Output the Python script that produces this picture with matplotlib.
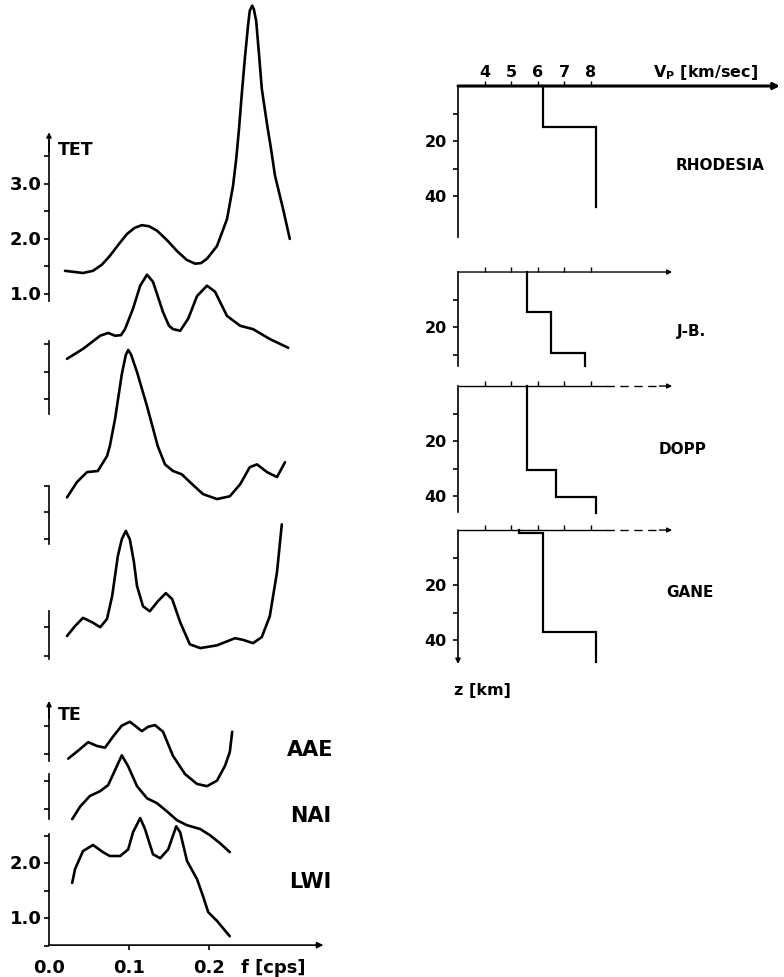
import matplotlib.pyplot as plt
import numpy as np

# ---- spectra (frequency in cps, amplitude in TET / TE units) ----
f1 = [0.020, 0.0425, 0.055, 0.066, 0.076, 0.087, 0.0975, 0.107, 0.116, 0.125, 0.135, 0.148,
      0.160, 0.172, 0.1825, 0.190, 0.1975, 0.210, 0.2225,
      0.230, 0.234, 0.2375, 0.241, 0.245, 0.249, 0.251, 0.254, 0.256, 0.259, 0.2625, 0.266,
      0.2725, 0.2775, 0.2825, 0.2925, 0.301]
a1 = [1.42, 1.38, 1.42, 1.53, 1.69, 1.90, 2.09, 2.20, 2.25, 2.23, 2.15, 1.97,
      1.78, 1.62, 1.55, 1.56, 1.64, 1.87, 2.36,
      2.96, 3.45, 4.00, 4.64, 5.31, 5.91, 6.15, 6.24, 6.18, 5.96, 5.36, 4.73,
      4.09, 3.64, 3.15, 2.55, 2.00]

f2 = [0.0225, 0.0425, 0.064, 0.074, 0.0825, 0.090, 0.095, 0.105, 0.114, 0.1225, 0.130, 0.1425,
      0.150, 0.155, 0.164, 0.174, 0.185, 0.1975, 0.2075, 0.2225, 0.239, 0.255, 0.276, 0.299]
a2 = [0.82, 1.00, 1.24, 1.29, 1.24, 1.25, 1.36, 1.73, 2.15, 2.35, 2.22, 1.67,
      1.42, 1.36, 1.33, 1.55, 1.96, 2.15, 2.04, 1.60, 1.42, 1.36, 1.18, 1.02]

f3 = [0.0225, 0.035, 0.0475, 0.061, 0.0725, 0.076, 0.0825, 0.091, 0.096, 0.099, 0.1025,
      0.110, 0.1225, 0.136, 0.145, 0.155, 0.166, 0.176, 0.1925, 0.210, 0.226, 0.239,
      0.251, 0.260, 0.2725, 0.285, 0.295]
a3 = [0.85, 1.13, 1.31, 1.33, 1.60, 1.78, 2.27, 3.09, 3.44, 3.53, 3.45,
      3.13, 2.51, 1.78, 1.45, 1.33, 1.27, 1.13, 0.91, 0.82, 0.87, 1.09,
      1.40, 1.45, 1.31, 1.22, 1.49]

f4 = [0.0225, 0.0325, 0.0425, 0.054, 0.064, 0.0725, 0.079, 0.086, 0.091, 0.096, 0.101,
      0.106, 0.110, 0.1175, 0.126, 0.136, 0.146, 0.154, 0.164, 0.176, 0.189, 0.210,
      0.2325, 0.2425, 0.255, 0.266, 0.276, 0.285, 0.291]
a4 = [0.42, 0.60, 0.75, 0.67, 0.58, 0.73, 1.15, 1.87, 2.18, 2.33, 2.18,
      1.78, 1.33, 0.96, 0.87, 1.05, 1.20, 1.09, 0.67, 0.27, 0.20, 0.25,
      0.38, 0.35, 0.29, 0.40, 0.78, 1.58, 2.45]

f_aae = [0.024, 0.036, 0.049, 0.060, 0.070, 0.080, 0.091, 0.101, 0.1075, 0.116, 0.124,
         0.1325, 0.1425, 0.155, 0.170, 0.185, 0.1975, 0.210, 0.220, 0.226, 0.229]
a_aae = [0.55, 0.69, 0.85, 0.78, 0.75, 0.95, 1.15, 1.22, 1.15, 1.05, 1.13,
         1.16, 1.04, 0.60, 0.27, 0.09, 0.05, 0.15, 0.42, 0.67, 1.04]

f_nai = [0.029, 0.039, 0.051, 0.064, 0.074, 0.0825, 0.091, 0.099, 0.110, 0.1225, 0.135,
         0.1475, 0.160, 0.1725, 0.189, 0.201, 0.214, 0.226]
a_nai = [0.62, 0.85, 1.04, 1.13, 1.24, 1.51, 1.78, 1.58, 1.22, 1.00, 0.91,
         0.76, 0.60, 0.51, 0.44, 0.33, 0.18, 0.02]

f_lwi = [0.029, 0.0325, 0.0425, 0.055, 0.0675, 0.076, 0.089, 0.099, 0.105, 0.114, 0.120,
         0.130, 0.139, 0.149, 0.159, 0.164, 0.1725, 0.185, 0.1925, 0.199, 0.210, 0.226]
a_lwi = [1.64, 1.89, 2.22, 2.33, 2.20, 2.13, 2.13, 2.25, 2.56, 2.82, 2.62,
         2.16, 2.09, 2.25, 2.67, 2.56, 2.04, 1.71, 1.40, 1.11, 0.95, 0.67]

stations = ['AAE', 'NAI', 'LWI']

# ---- velocity-depth profiles (depth boundaries km, Vp km/sec) ----
rho_z = [0, 15, 44]
rho_v = [6.2, 8.2]
jb_z = [0, 14.5, 29.5, 34]
jb_v = [5.6, 6.5, 7.8]
dopp_z = [0, 30.5, 40.5, 46]
dopp_v = [5.6, 6.7, 8.2]
gane_z = [0, 1, 37, 48]
gane_v = [5.3, 6.2, 8.2]
profile_names = ['RHODESIA', 'J-B.', 'DOPP', 'GANE']

vp_ticks = [4, 5, 6, 7, 8]

fig = plt.figure(figsize=(7.84, 9.78), dpi=100)
plt.rcParams['font.family'] = 'DejaVu Sans'
plt.rcParams['font.weight'] = 'bold'
plt.rcParams['mathtext.default'] = 'bf'

# =================== left: spectra ===================
ax = fig.add_axes([0, 0, 400 / 784, 1])
ax.set_xlim(-0.06125, 0.43875)
ax.set_ylim(0, 17.782)
ax.axis('off')

lw_c = 1.9
offsets = [11.42, 10.42, 7.87, 5.78, 3.42, 2.25, 0.07]
curves = [(f1, a1), (f2, a2), (f3, a3), (f4, a4),
          (f_aae, a_aae), (f_nai, a_nai), (f_lwi, a_lwi)]
for (ff, aa), off in zip(curves, offsets):
    ax.plot(ff, np.array(aa) + off, color='black', lw=lw_c,
            solid_joinstyle='round', solid_capstyle='round')

# broken amplitude axis pieces: (bottom, top, ticks)
tl = 0.0065
segments = [
    (12.29, 15.20, offsets[0] + np.arange(1.0, 4.0, 0.5)),
    (10.24, 11.56, [10.51, 11.0, 11.51]),
    (7.87, 8.93, [7.96, 8.45, 8.93]),
    (5.78, 6.65, [5.84, 6.36]),
    (3.93, 4.90, [4.05, 4.56]),
    (2.87, 3.69, [3.05, 3.56]),
    (0.58, 2.60, offsets[6] + np.arange(0.5, 3.0, 0.5)),
]
for yb, yt, ticks in segments:
    ax.plot([0, 0], [yb, yt], color='black', lw=1.2)
    ax.hlines(ticks, -tl, 0, color='black', lw=1.2)

# arrowheads on the TET and TE axes
for yb, yt in [(15.0, 15.36), (4.7, 5.02)]:
    ax.annotate('', xy=(0, yt), xytext=(0, yb),
                arrowprops=dict(arrowstyle='-|>', color='black', lw=1.2,
                                mutation_scale=7, shrinkA=0, shrinkB=0))

for v in [1.0, 2.0, 3.0]:
    ax.text(-0.009, v + offsets[0], f'{v:.1f}', ha='right', va='center', fontsize=13)
for v in [1.0, 2.0]:
    ax.text(-0.009, v + offsets[6], f'{v:.1f}', ha='right', va='center', fontsize=13)
ax.text(0.011, 15.05, 'TET', ha='left', va='center', fontsize=12.5)
ax.text(0.011, 4.78, 'TE', ha='left', va='center', fontsize=12.5)

# frequency axis
ax.annotate('', xy=(0.343, 0.58), xytext=(0, 0.58),
            arrowprops=dict(arrowstyle='-|>', color='black', lw=1.2,
                            mutation_scale=9, shrinkA=0, shrinkB=0))
ax.vlines([0.1, 0.2], 0.49, 0.58, color='black', lw=1.2)
for fv in [0.0, 0.1, 0.2]:
    ax.text(fv, 0.18, f'{fv:.1f}', ha='center', va='center', fontsize=13)
ax.text(0.280, 0.18, 'f [cps]', ha='center', va='center', fontsize=13)

for name, ypos in zip(stations, [4.145, 2.945, 1.745]):
    ax.text(0.327, ypos, name, ha='center', va='center', fontsize=15)

# =================== right: velocity profiles ===================
bx = fig.add_axes([400 / 784, 0, 384 / 784, 1])
bx.set_xlim(0.811, 15.302)
bx.set_ylim(355.6, 0)
bx.axis('off')

tops = [31.64, 99.27, 140.73, 193.09]
axis_len = [54.9, 34.2, 45.8, 48.7]
arrow_end = [15.15, 11.08, 11.08, 11.08]
profiles = [(rho_z, rho_v), (jb_z, jb_v), (dopp_z, dopp_v), (gane_z, gane_v)]
label_pos = [(12.89, 60.0), (11.83, 120.7), (11.49, 163.6), (11.75, 215.3)]

for i, ((zz, vv), top) in enumerate(zip(profiles, tops)):
    # velocity axis along the surface
    if i == 0:
        bx.annotate('', xy=(arrow_end[i], top), xytext=(3, top),
                    arrowprops=dict(arrowstyle='-|>', color='black', lw=2.2,
                                    mutation_scale=9, shrinkA=0, shrinkB=0))
    elif i == 1:
        bx.annotate('', xy=(arrow_end[i], top), xytext=(3, top),
                    arrowprops=dict(arrowstyle='-|>', color='black', lw=1.0,
                                    mutation_scale=7, shrinkA=0, shrinkB=0))
    else:
        bx.plot([3, 8.6], [top, top], color='black', lw=1.0)
        bx.plot([8.6, 10.6], [top, top], color='black', lw=1.0, ls=(0, (6, 4)))
        bx.annotate('', xy=(arrow_end[i], top), xytext=(10.6, top),
                    arrowprops=dict(arrowstyle='-|>', color='black', lw=1.0,
                                    mutation_scale=7, shrinkA=0, shrinkB=0))
    bx.vlines(vp_ticks, top - 1.8, top, color='black', lw=1.0)

    # depth axis
    if i == 3:
        bx.annotate('', xy=(3, top + axis_len[i]), xytext=(3, top),
                    arrowprops=dict(arrowstyle='-|>', color='black', lw=1.2,
                                    mutation_scale=7, shrinkA=0, shrinkB=0))
    else:
        bx.plot([3, 3], [top, top + axis_len[i]], color='black', lw=1.2)
    dticks = [d for d in [10, 20, 30, 40] if d < axis_len[i]]
    bx.hlines([top + d for d in dticks], 2.8, 3, color='black', lw=1.2)
    for d in [20, 40]:
        if d < axis_len[i]:
            bx.text(2.58, top + d, str(d), ha='right', va='center', fontsize=11.5)

    # step profile
    xs = np.repeat(vv, 2)
    ys = np.repeat(zz, 2)[1:-1]
    bx.plot(xs, np.array(ys) + top, color='black', lw=1.6,
            solid_joinstyle='miter')

    bx.text(label_pos[i][0], label_pos[i][1], profile_names[i],
            ha='center', va='center', fontsize=11)

for v in vp_ticks:
    bx.text(v, 26.5, str(v), ha='center', va='center', fontsize=11.5)
bx.text(12.34, 26.5, r'V$_P$ [km/sec]', ha='center', va='center', fontsize=11.5)
bx.text(3.94, 250.9, 'z [km]', ha='center', va='center', fontsize=11.5)

fig.savefig('out.png', dpi=100)
